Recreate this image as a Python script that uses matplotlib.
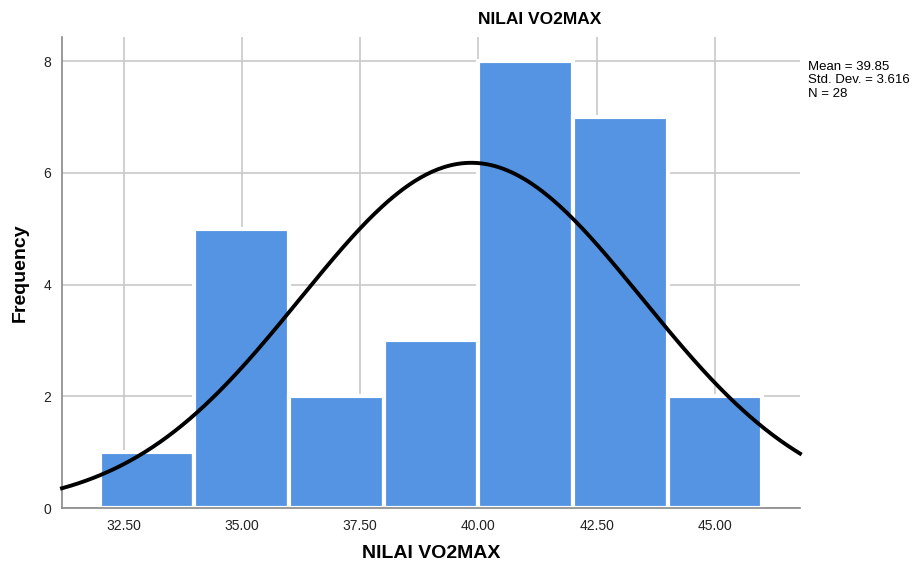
import matplotlib.pyplot as plt
import numpy as np

plt.rcParams['font.family'] = ['Liberation Sans', 'DejaVu Sans']

# Histogram data
bin_edges = [32, 34, 36, 38, 40, 42, 44, 46]
counts = [1, 5, 2, 3, 8, 7, 2]
mean = 39.85
std_dev = 3.616
n = 28
x_ticks = [32.5, 35.0, 37.5, 40.0, 42.5, 45.0]
y_ticks = [0, 2, 4, 6, 8]

fig = plt.figure(figsize=(9.2, 5.67), dpi=100)
ax = fig.add_axes([62 / 920, 1 - 508 / 567, (800 - 62) / 920, (508 - 37) / 567])

# Bars
lefts = bin_edges[:-1]
widths = np.diff(bin_edges)
ax.bar(lefts, counts, width=widths, align='edge', color='#5594E3',
       edgecolor='white', linewidth=3, zorder=2)

# Normal curve scaled to histogram
ax.set_xlim(31.2, 46.8)
ax.set_ylim(0, 8.43)
xs = np.linspace(31.2, 46.8, 400)
bw = widths[0]
ys = n * bw / (std_dev * np.sqrt(2 * np.pi)) * np.exp(-0.5 * ((xs - mean) / std_dev) ** 2)
ax.plot(xs, ys, color='black', linewidth=2.8, zorder=3, clip_on=False)

# Grid and spines
ax.set_xticks(x_ticks)
ax.set_xticklabels([f'{t:.2f}' for t in x_ticks])
ax.set_yticks(y_ticks)
ax.grid(True, color='#c8c8c8', linewidth=1.2, zorder=0)
ax.set_axisbelow(True)
for side in ['top', 'right']:
    ax.spines[side].set_visible(False)
for side in ['left', 'bottom']:
    ax.spines[side].set_color('#888888')
    ax.spines[side].set_linewidth(1.2)
ax.tick_params(length=0, labelsize=10, pad=8, colors='#222222')

ax.set_xlabel('NILAI VO2MAX', fontsize=14, weight='bold', va='center')
ax.set_ylabel('Frequency', fontsize=14, weight='bold', va='center')
ax.xaxis.set_label_coords(0.5, -(553 - 508) / 471)
ax.yaxis.set_label_coords((20 - 62) / 738, 0.5)

fig.text(540 / 920, 1 - 20 / 567, 'NILAI VO2MAX', fontsize=12.5, weight='bold',
         ha='center', va='center')
fig.text(808 / 920, 1 - 61 / 567,
         f'Mean = {mean}\nStd. Dev. = {std_dev}\nN = {n}',
         fontsize=9.5, ha='left', va='top', linespacing=1.15)

plt.savefig('out.png', dpi=100, facecolor='white')
